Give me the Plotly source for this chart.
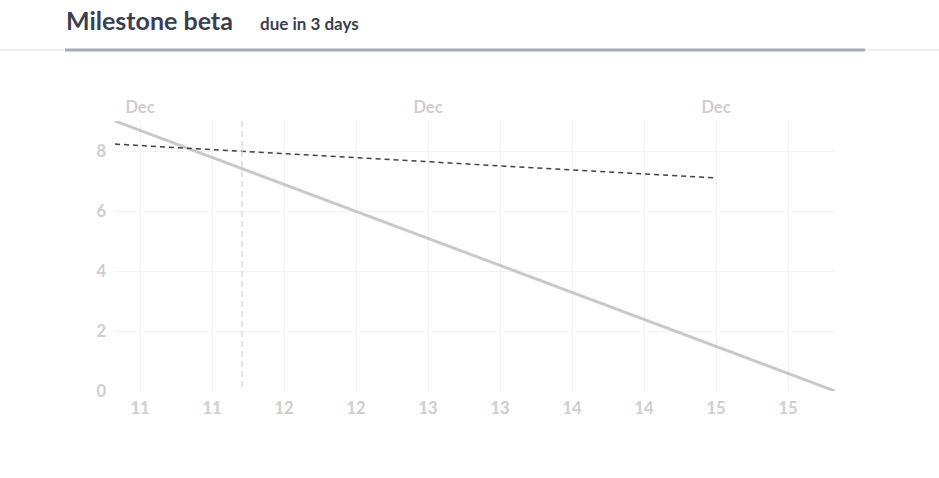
import plotly.graph_objects as go

# Data
ideal_dates = ["2023-12-10 19:50", "2023-12-15 19:50"]
ideal_values = [9, 0]
actual_dates = ["2023-12-10 19:50", "2023-12-15 00:00"]
actual_values = [8.23, 7.1]
today = "2023-12-11 17:00"
title_text = "Milestone beta"
subtitle_text = "due in 3 days"

W, H = 939, 478
L, R, T, B = 115, 104, 121, 87
pw, ph = W - L - R, H - T - B

def px(x):
    return (x - L) / pw

def py(y):
    return (H - B - y) / ph

fig = go.Figure()
fig.add_trace(go.Scatter(x=ideal_dates, y=ideal_values, mode="lines",
                         line=dict(color="#c9c9c9", width=3), hoverinfo="skip"))
fig.add_trace(go.Scatter(x=actual_dates, y=actual_values, mode="lines",
                         line=dict(color="#3d4150", width=1.5, dash="5px,4px"), hoverinfo="skip"))
fig.add_trace(go.Scatter(x=ideal_dates, y=ideal_values, mode="lines", xaxis="x2",
                         line=dict(color="rgba(0,0,0,0)", width=0), hoverinfo="skip"))

fig.add_shape(type="line", xref="x", yref="paper", x0=today, x1=today, y0=0.015, y1=1,
              line=dict(color="#dcdcdc", width=1.5, dash="6px,4px"))

# header lines
fig.add_shape(type="line", xref="paper", yref="paper", x0=px(0), x1=px(W), y0=py(50), y1=py(50),
              line=dict(color="#f0f0f0", width=2))
fig.add_shape(type="line", xref="paper", yref="paper", x0=px(65), x1=px(865), y0=py(50), y1=py(50),
              line=dict(color="#aaabb8", width=3))

fig.add_annotation(text=title_text, xref="paper", yref="paper", x=px(64), y=py(20),
                   xanchor="left", yanchor="middle", showarrow=False,
                   font=dict(family="Lato", size=25, color="#3b3f4f", weight="bold"))
fig.add_annotation(text=subtitle_text, xref="paper", yref="paper", x=px(258), y=py(23),
                   xanchor="left", yanchor="middle", showarrow=False,
                   font=dict(family="Lato", size=17, color="#3b3f4f", weight="bold"))

tickfont = dict(family="Lato", size=16.5, color="#cecece", weight="bold")
fig.update_layout(
    width=W, height=H,
    margin=dict(l=L, r=R, t=T, b=B),
    paper_bgcolor="white", plot_bgcolor="white",
    showlegend=False,
    xaxis=dict(type="date", range=[ideal_dates[0], ideal_dates[1]],
               tick0="2023-12-11", dtick=43200000, tickformat="%d",
               showgrid=True, gridcolor="#f0f0f0", gridwidth=1,
               zeroline=False, showline=False, ticks="",
               tickfont=tickfont, ticklabelstandoff=5),
    xaxis2=dict(type="date", range=[ideal_dates[0], ideal_dates[1]], overlaying="x", side="top",
                anchor="y", tick0="2023-12-11", dtick=172800000, tickformat="%b",
                showgrid=False, zeroline=False, showline=False, ticks="",
                tickfont=tickfont, ticklabelstandoff=4),
    yaxis=dict(range=[0, 9], dtick=2, showgrid=True, gridcolor="#f3f3f3", gridwidth=1,
               zeroline=False, showline=False, ticks="", tickfont=tickfont,
               ticklabelstandoff=8),
)

fig.write_html("out.html", config={"displayModeBar": False},
               post_script="document.body.style.margin='0';")
